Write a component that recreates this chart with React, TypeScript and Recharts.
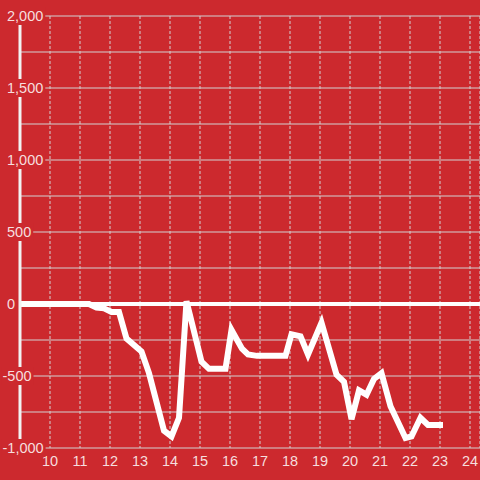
import { LineChart, Line, XAxis, YAxis, CartesianGrid, ReferenceLine } from 'recharts'

// x position and value
const xValues = [
  9, 11.3, 11.55, 11.8, 12.05, 12.3, 12.55, 13.05, 13.3, 13.8, 14.05, 14.3, 14.55,
  15.05, 15.3, 15.85, 16.05, 16.4, 16.6, 16.9, 17.85, 18.05, 18.35, 18.6, 19.05,
  19.55, 19.8, 20.05, 20.3, 20.55, 20.8, 21.05, 21.35, 21.85, 22.05, 22.35, 22.6, 23.1,
]
const seriesValues = [
  0, 0, -25, -30, -55, -55, -240, -330, -480, -880, -920, -790, 20,
  -400, -450, -450, -180, -310, -350, -360, -360, -210, -225, -350, -130,
  -490, -540, -800, -600, -630, -520, -480, -710, -930, -920, -790, -840, -840,
]
const xTicks = [10, 11, 12, 13, 14, 15, 16, 17, 18, 19, 20, 21, 22, 23, 24]
const yTicks = [-1000, -750, -500, -250, 0, 250, 500, 750, 1000, 1250, 1500, 1750, 2000]

const data = xValues.map((x, i) => ({ x, value: seriesValues[i] }))

const RED = '#cc292e'
const LABEL = '#f6dede'
const GRID = '#d2d2d2'
const FONT = '"Liberation Sans", Arial, sans-serif'
const FONT_SIZE = 14.5

// rough Liberation Sans advance widths (em units)
function textWidth(s: string): number {
  let w = 0
  for (const c of s) {
    if (c === ',') w += 0.278
    else if (c === '-') w += 0.333
    else w += 0.556
  }
  return w * FONT_SIZE
}

type TickProps = { x?: number; y?: number; payload?: { value: number } }

// labels sit inside the plot, left-aligned, minus sign hanging out to the left,
// with a red box that cuts the axis line and the grid line behind them
function YTick({ x = 0, y = 0, payload }: TickProps) {
  const v = payload?.value ?? 0
  if (v % 500 !== 0) return null
  const label = v.toLocaleString('en-US')
  const left = v < 0 ? x - 17.5 : x - 13
  const w = textWidth(label)
  return (
    <g>
      <rect x={left - 1} y={y - 9} width={w + 3} height={18} fill={RED} />
      <text x={left} y={y} dy={5} textAnchor="start" fill={LABEL} fontSize={FONT_SIZE} fontFamily={FONT}>
        {label}
      </text>
    </g>
  )
}

export default function App() {
  return (
    <div style={{ position: 'absolute', left: 0, top: 0, width: 480, height: 480, background: RED }}>
      <LineChart width={480} height={480} data={data} margin={{ top: 16, right: 0, bottom: 0, left: 0 }}>
        <CartesianGrid vertical={false} stroke={GRID} strokeWidth={1} />
        <CartesianGrid horizontal={false} stroke={GRID} strokeWidth={1} strokeDasharray="3 2" />
        <XAxis
          type="number"
          dataKey="x"
          domain={[9, 24.3333]}
          ticks={xTicks}
          allowDataOverflow
          height={32}
          axisLine={false}
          tickLine={false}
          tick={{ fill: LABEL, fontSize: FONT_SIZE, fontFamily: FONT }}
        />
        <YAxis
          type="number"
          domain={[-1000, 2000]}
          ticks={yTicks}
          width={20}
          tickSize={0}
          tickMargin={0}
          tickLine={false}
          axisLine={{ stroke: '#f2f2f2', strokeWidth: 3 }}
          tick={<YTick />}
        />
        <ReferenceLine y={0} stroke="#ffffff" strokeWidth={4} />
        <Line
          type="linear"
          dataKey="value"
          stroke="#ffffff"
          strokeWidth={6}
          dot={false}
          isAnimationActive={false}
        />
      </LineChart>
    </div>
  )
}
